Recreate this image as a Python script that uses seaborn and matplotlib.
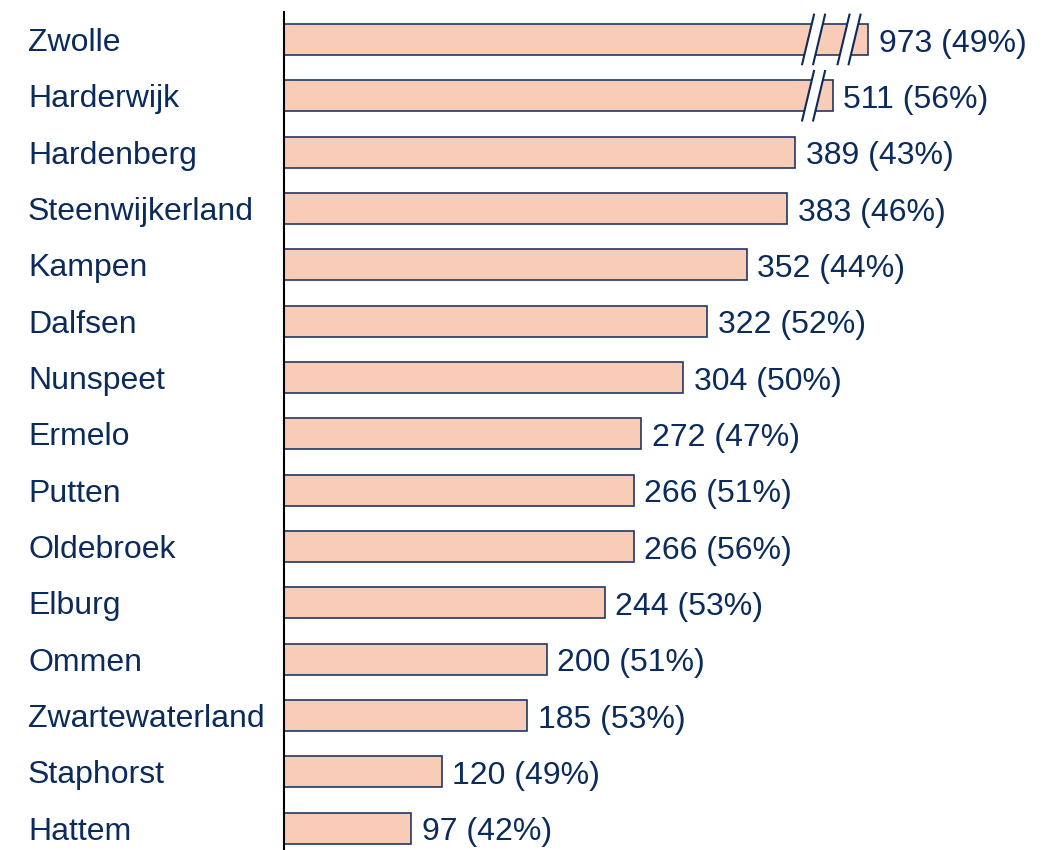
import matplotlib
matplotlib.use('Agg')
import matplotlib.pyplot as plt
import seaborn as sns
import pandas as pd

# data
cities = ['Zwolle', 'Harderwijk', 'Hardenberg', 'Steenwijkerland', 'Kampen', 'Dalfsen',
          'Nunspeet', 'Ermelo', 'Putten', 'Oldebroek', 'Elburg', 'Ommen',
          'Zwartewaterland', 'Staphorst', 'Hattem']
counts = [973, 511, 389, 383, 352, 322, 304, 272, 266, 266, 244, 200, 185, 120, 97]
shares = [49, 56, 43, 46, 44, 52, 50, 47, 51, 56, 53, 51, 53, 49, 42]

# broken-axis settings (data units)
BREAK_FIRST = 403
BREAK_STEP = 27
BREAK_TAIL = 14.5


def n_breaks(v):
    if v <= BREAK_FIRST:
        return 0
    return 1 if v < 900 else 2


def shown(v):
    n = n_breaks(v)
    if n == 0:
        return v
    return BREAK_FIRST + BREAK_STEP * (n - 1) + BREAK_TAIL


df = pd.DataFrame({'city': cities, 'count': counts, 'share': shares})
df['shown'] = df['count'].apply(shown)

NAVY = '#0b2b5c'
EDGE = '#1f3864'
FILL = '#f9ccb7'
FS = 23

sns.set_theme(style='white')
plt.rcParams['font.family'] = ['Liberation Sans', 'DejaVu Sans']

fig = plt.figure(figsize=(10.5, 8.5), dpi=100)
ax = fig.add_axes([284 / 1050, 0, (1040 - 284) / 1050, 838 / 850])

sns.barplot(data=df, x='shown', y='city', orient='h', color=FILL, saturation=1,
            width=0.55, edgecolor=EDGE, linewidth=1.2, ax=ax)

# break marks
for i, v in enumerate(counts):
    for n in range(n_breaks(v)):
        xc = BREAK_FIRST + n * BREAK_STEP
        g, s, h = 4.2, 4.7, 0.458
        ax.fill([xc - g - s, xc - g + s, xc + g + s, xc + g - s],
                [i + h, i - h, i - h, i + h], color='white', zorder=5, lw=0)
        for off in (-g, g):
            ax.plot([xc + off - s, xc + off + s], [i + h, i - h],
                    color=NAVY, lw=1.5, zorder=6, solid_capstyle='butt')

# value labels
for i, row in df.iterrows():
    ax.annotate(f"{row['count']} ({row['share']}%)", (row['shown'], i),
                xytext=(7.5, -0.5), textcoords='offset points', va='center_baseline',
                ha='left', fontsize=FS, color=NAVY)

ax.set_xlim(0, 575.3)
ax.set_ylim(14.39, -0.487)
ax.set_xlabel('')
ax.set_ylabel('')
ax.set_xticks([])
ax.tick_params(axis='y', length=0, pad=(284 - 28) * 72 / 100, labelsize=FS, labelcolor=NAVY)
for lab in ax.get_yticklabels():
    lab.set_horizontalalignment('left')
    lab.set_verticalalignment('center_baseline')

for side in ['top', 'right', 'bottom']:
    ax.spines[side].set_visible(False)
ax.spines['left'].set_color('black')
ax.spines['left'].set_linewidth(1.5)

fig.savefig('out.png', dpi=100)
